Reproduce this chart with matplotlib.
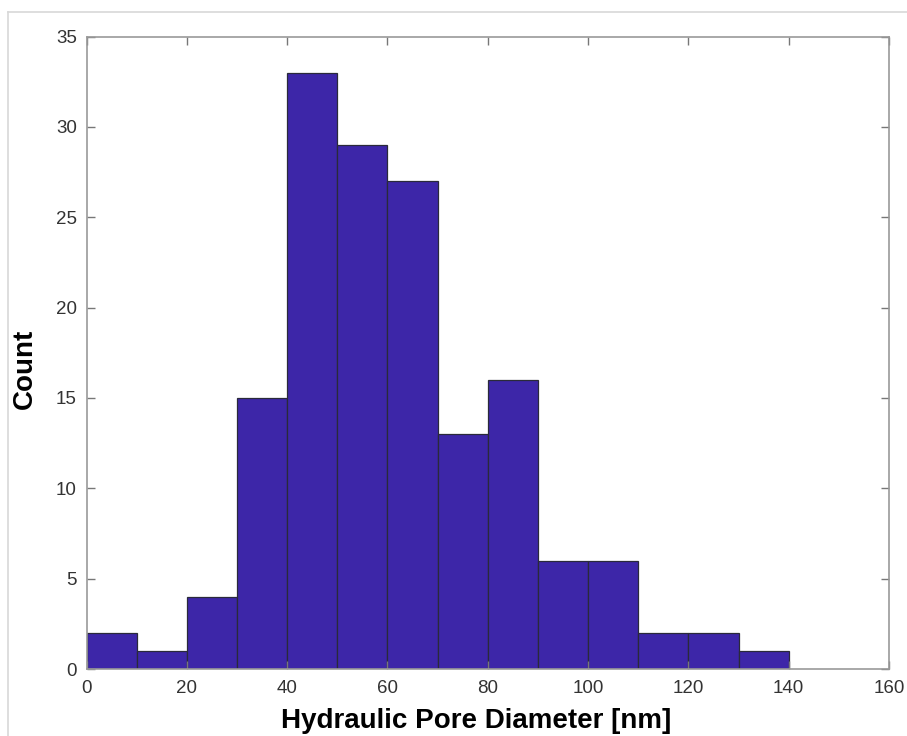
import numpy as np
import matplotlib.pyplot as plt
from matplotlib.lines import Line2D

plt.rcParams['font.family'] = ['Liberation Sans', 'DejaVu Sans']

# histogram data (bin edges in nm, counts per bin)
bin_edges = [0, 10, 20, 30, 40, 50, 60, 70, 80, 90, 100, 110, 120, 130, 140]
counts = [2, 1, 4, 15, 33, 29, 27, 13, 16, 6, 6, 2, 2, 1]
x_ticks = [0, 20, 40, 60, 80, 100, 120, 140, 160]
y_ticks = [0, 5, 10, 15, 20, 25, 30, 35]

fig = plt.figure(figsize=(9.07, 7.36), dpi=100)
ax = fig.add_axes([86.5/907, 1-669/736, (889-86.5)/907, (669-36.5)/736])

edges = np.array(bin_edges)
ax.bar(edges[:-1], counts, width=np.diff(edges), align='edge',
       color='#3d26a8', edgecolor='#2a2a3a', linewidth=0.9)

ax.set_xlim(0, 160)
ax.set_ylim(0, 35)
ax.set_xticks(x_ticks)
ax.set_yticks(y_ticks)
ax.tick_params(direction='in', top=True, right=True, length=6, width=1,
               color='#777777', labelsize=13.5, labelcolor='#333333')
ax.tick_params(axis='x', pad=8)
ax.tick_params(axis='y', pad=7)
for s in ax.spines.values():
    s.set_color('#999999')
    s.set_linewidth(1.2)

ax.set_xlabel('Hydraulic Pore Diameter [nm]', fontsize=20, fontweight='bold')
ax.set_ylabel('Count', fontsize=20, fontweight='bold')
ax.xaxis.set_label_coords(0.485, -0.061)
ax.yaxis.set_label_coords(-0.061, 0.474)

# light frame around the figure
fig.add_artist(Line2D([8/907, 1], [1-12/736, 1-12/736], color='#d8d8d8', lw=1.2, transform=fig.transFigure))
fig.add_artist(Line2D([8/907, 8/907], [0, 1-12/736], color='#d8d8d8', lw=1.2, transform=fig.transFigure))

fig.savefig('out.png', dpi=100)
